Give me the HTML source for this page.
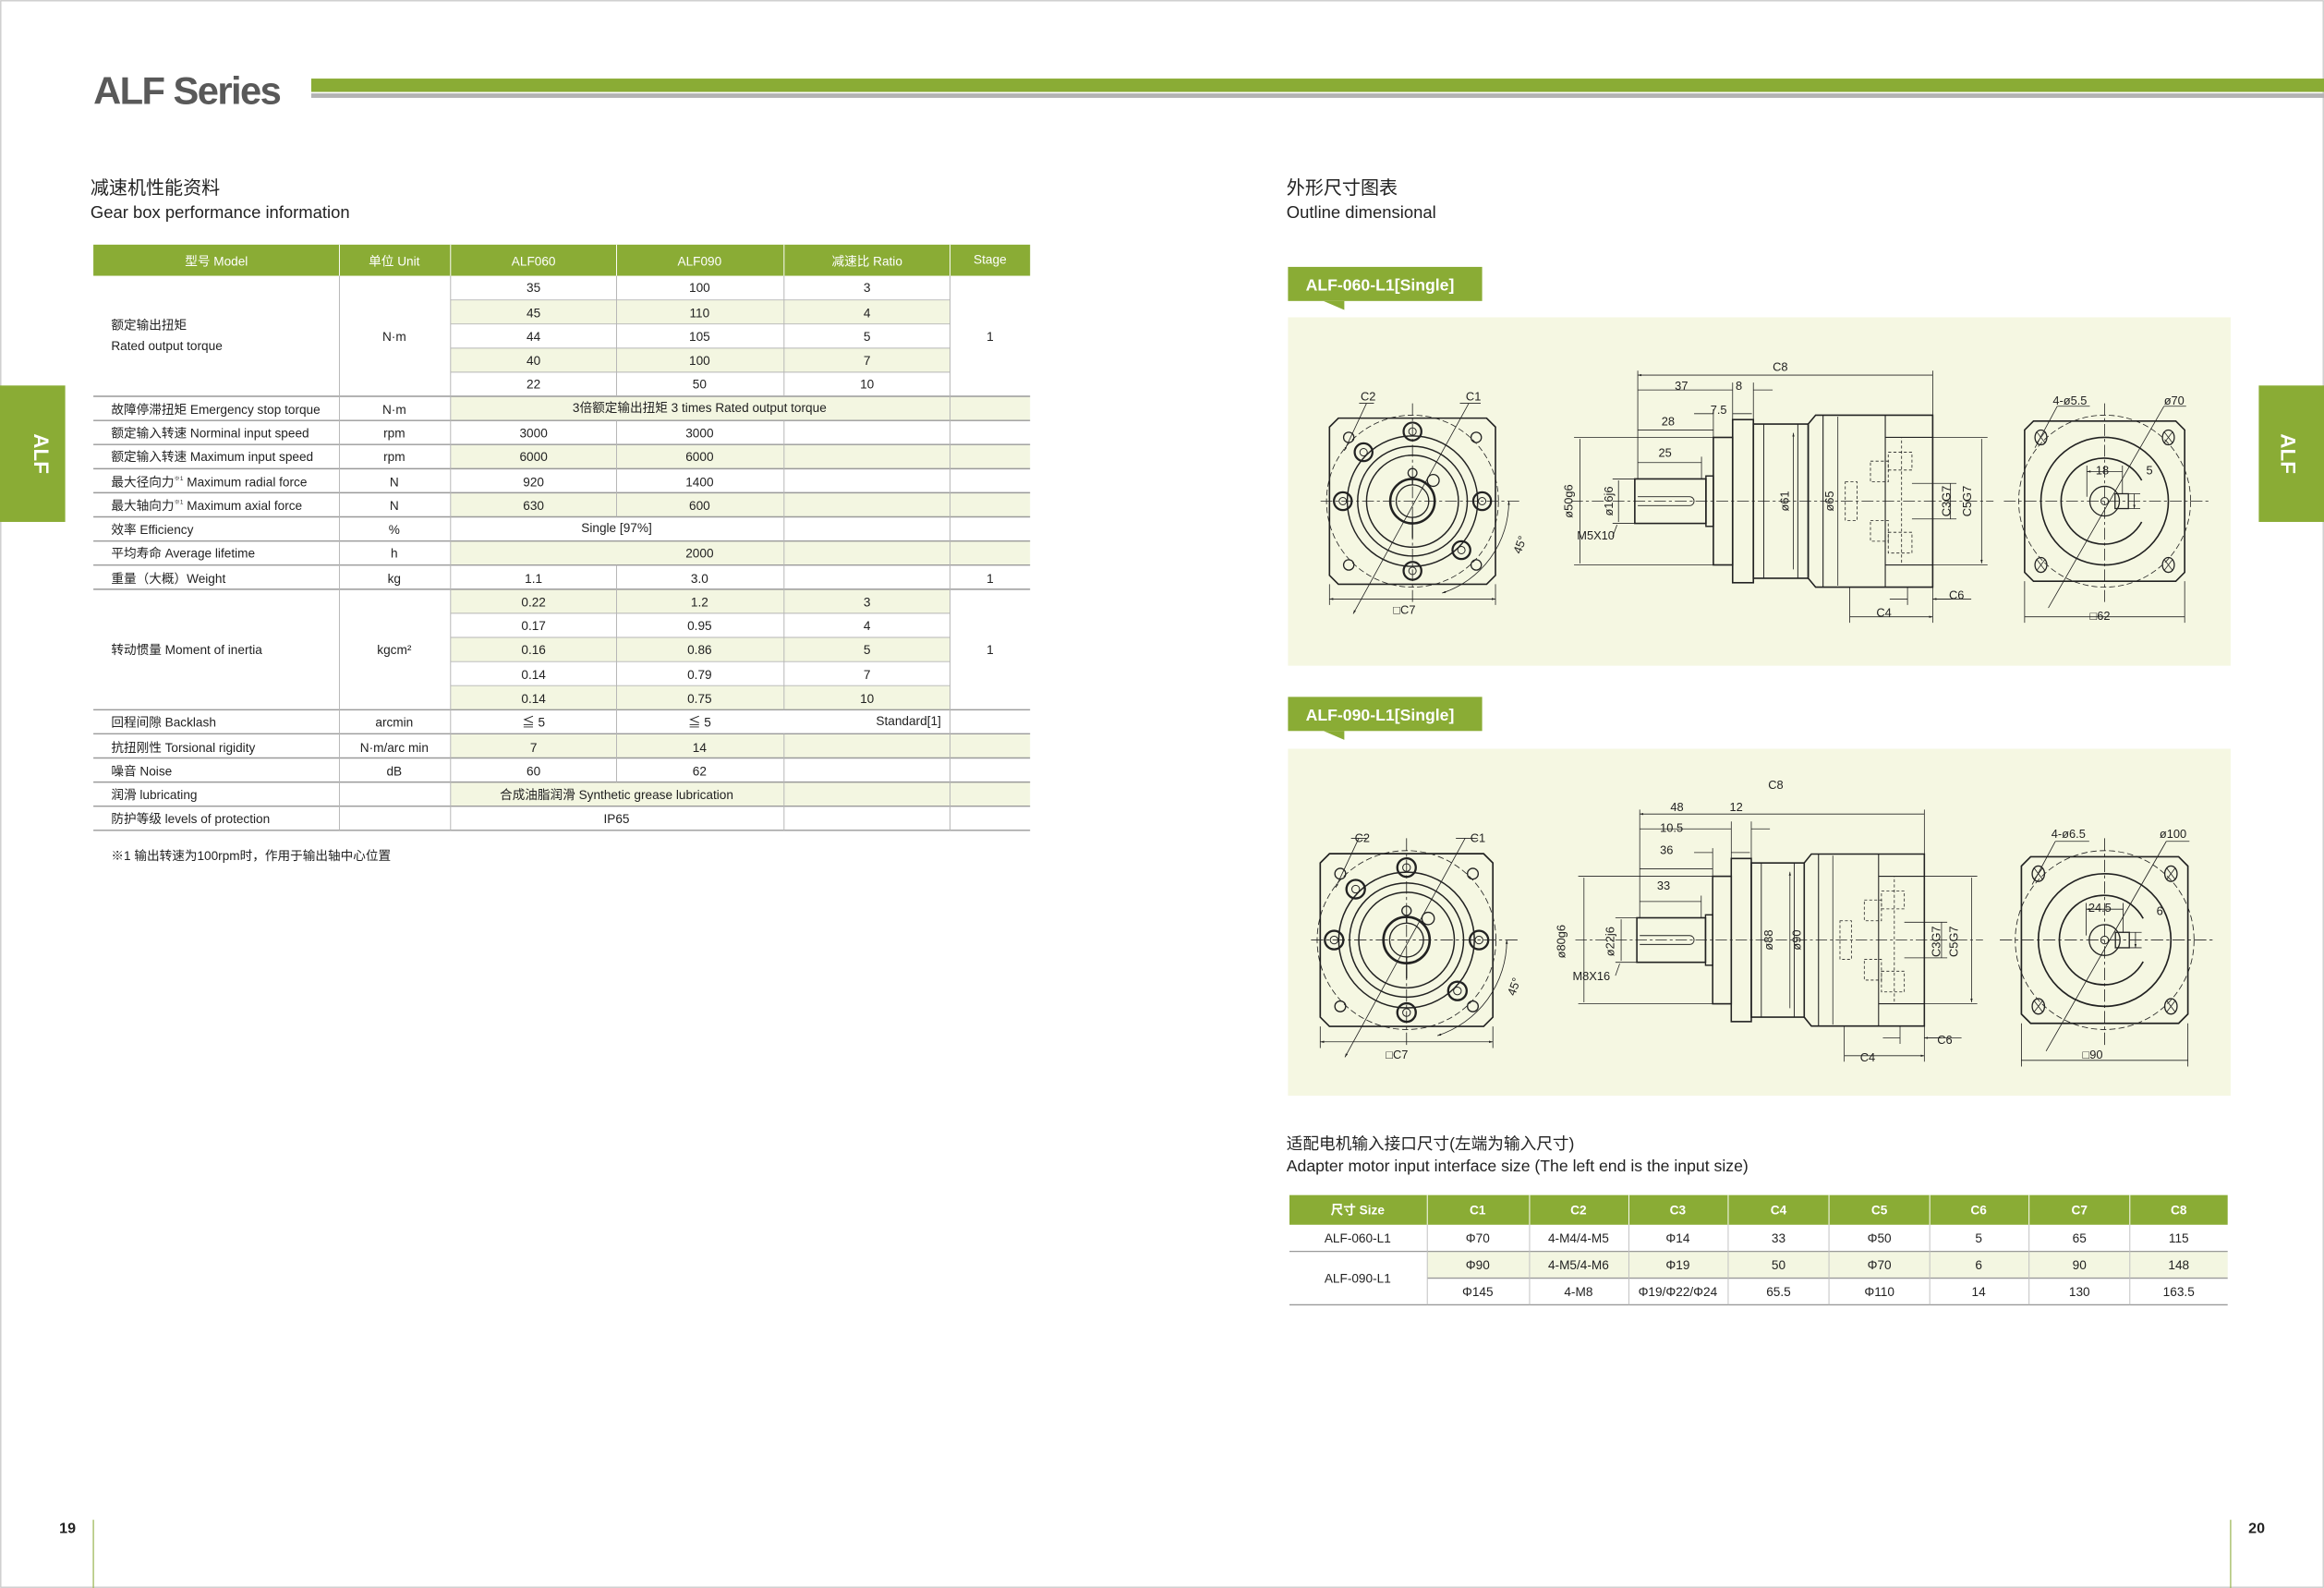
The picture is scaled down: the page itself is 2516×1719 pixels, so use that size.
<!DOCTYPE html>
<html><head><meta charset="utf-8"><style>
html,body{margin:0;padding:0;background:#fff;}
svg{display:block;}
text{font-family:"Liberation Sans","Noto Sans CJK SC",sans-serif;}
</style></head><body>
<svg width="2516" height="1719" viewBox="0 0 1568 1071" preserveAspectRatio="none" xmlns="http://www.w3.org/2000/svg">
<defs>
<marker id="a" viewBox="0 0 10 10" refX="10" refY="5" markerWidth="5" markerHeight="5" orient="auto-start-reverse"><path d="M0,2 L10,5 L0,8 Z" fill="#222"/></marker>
<g id="fv" fill="none" stroke="#222">
<path d="M-50,-56 H50 L56,-50 V50 L50,56 H-50 L-56,50 V-50 Z" stroke-width="1"/>
<circle r="58" stroke-width="0.5" stroke-dasharray="4 2"/>
<circle r="44" stroke-width="0.9"/><circle r="37" stroke-width="0.9"/><circle r="31" stroke-width="0.9"/>
<circle r="15" stroke-width="1.6"/><circle r="11" stroke-width="0.8"/>
<circle cx="0" cy="-19" r="3" stroke-width="0.8"/><path d="M0,-16 V-11 M0,11 V25" stroke-width="0.8"/>
<circle cx="14" cy="-14" r="4" stroke-width="0.8"/>
<g stroke-width="1.4"><circle cx="0" cy="-47" r="6"/><circle cx="0" cy="47" r="6"/><circle cx="-47" cy="0" r="6"/><circle cx="47" cy="0" r="6"/><circle cx="-33" cy="-33" r="6"/><circle cx="33" cy="33" r="6"/></g>
<g stroke-width="0.6"><circle cx="0" cy="-47" r="2.5"/><circle cx="0" cy="47" r="2.5"/><circle cx="-47" cy="0" r="2.5"/><circle cx="47" cy="0" r="2.5"/><circle cx="-33" cy="-33" r="2.5"/><circle cx="33" cy="33" r="2.5"/></g>
<g stroke-width="0.8"><circle cx="-43" cy="-43" r="3.5"/><circle cx="43" cy="-43" r="3.5"/><circle cx="-43" cy="43" r="3.5"/><circle cx="43" cy="43" r="3.5"/></g>
<path d="M-62,0 H72 M0,-66 V68" stroke-width="0.5" stroke-dasharray="8 2 2 2"/>
<path d="M38,-66 L-40,76" stroke-width="0.5" marker-end="url(#a)"/>
<path d="M-31,-66 L-46,-34" stroke-width="0.5" marker-end="url(#a)"/>
<path d="M-36,-66 H-26 M32,-66 H46" stroke-width="0.5"/>
<path d="M65,0 A65,65 0 0 1 20,62" stroke-width="0.5" marker-start="url(#a)" marker-end="url(#a)"/>
<path d="M-56,66 H56" stroke-width="0.5" marker-start="url(#a)" marker-end="url(#a)"/>
<path d="M-56,56 V70 M56,56 V70" stroke-width="0.5"/>
</g>
<g id="sv" fill="none" stroke="#222">
<rect x="1103" y="-15" width="48" height="30" stroke-width="1"/>
<path d="M1105,-3 H1140 A3,3 0 0 1 1140,3 H1105" stroke-width="0.6"/>
<rect x="1151" y="-17" width="5" height="34" stroke-width="0.9"/>
<rect x="1156" y="-43" width="13" height="86" stroke-width="1"/>
<rect x="1169" y="-55" width="14" height="110" stroke-width="1"/>
<rect x="1183" y="-52" width="37" height="104" stroke-width="1"/>
<path d="M1190,-52 V52 M1213,-52 V52" stroke-width="0.6"/>
<path d="M1220,-52 L1225,-58 H1304 V58 H1225 L1220,52 Z" stroke-width="1"/>
<path d="M1230,-58 V58 M1272,-58 V58 M1272,-43 H1304 M1272,43 H1304" stroke-width="0.7"/>
<g stroke-width="0.5" stroke-dasharray="2 1.5">
<rect x="1283" y="-43" width="21" height="86"/>
<rect x="1245" y="-13" width="8" height="26"/>
<rect x="1262" y="-27" width="12" height="14"/><rect x="1262" y="13" width="12" height="14"/>
<rect x="1274" y="-33" width="16" height="12"/><rect x="1274" y="21" width="16" height="14"/>
</g>
<g stroke-width="0.5">
<path d="M1210,-46 V46 M1240,-57 V57 M1066,-42 V42 M1092,-14 V14 M1316,-12 V12 M1337,-42 V42" marker-start="url(#a)" marker-end="url(#a)"/>
<path d="M1062,-43 H1156 M1062,43 H1156 M1088,-15 H1103 M1088,15 H1103 M1304,-43 H1341 M1304,43 H1341 M1290,-12 H1320 M1290,12 H1320"/>
<path d="M1105,-88 V-15 M1304,-88 V-58 M1169,-80 V-55 M1183,-80 V-55 M1156,-62 V-43 M1148,-30 V-15 M1287,58 V70 M1304,58 V82 M1248,58 V82"/>
<path d="M1105,-85 H1304 M1105,-75 H1169 M1105,-48 H1156 M1105,-26 H1148 M1248,78 H1304" marker-start="url(#a)" marker-end="url(#a)"/>
<path d="M1196,-75 H1183 M1143,-59 H1156 M1182,-59 H1169 M1275,66 H1287 M1316,66 H1304" marker-end="url(#a)"/>
<path d="M1304,66 H1330 M1091,16 L1088,24"/>
</g>
<path d="M1060,0 H1345" stroke-width="0.5" stroke-dasharray="8 2 2 2"/>
</g>
<g id="rv" fill="none" stroke="#222">
<path d="M-48,-54 H48 L54,-48 V48 L48,54 H-48 L-54,48 V-48 Z" stroke-width="1"/>
<circle r="58" stroke-width="0.5" stroke-dasharray="4 2"/>
<circle r="43" stroke-width="1"/>
<path d="M25,-14 A29,29 0 1 0 25,14" stroke-width="1"/>
<circle r="10" stroke-width="0.8"/><circle r="2.5" stroke-width="0.6"/>
<rect x="7" y="-5" width="9" height="10" stroke-width="0.8"/>
<g stroke-width="0.8"><ellipse cx="-43" cy="-43" rx="4" ry="5"/><ellipse cx="43" cy="-43" rx="4" ry="5"/><ellipse cx="-43" cy="43" rx="4" ry="5"/><ellipse cx="43" cy="43" rx="4" ry="5"/></g>
<g stroke-width="0.5">
<path d="M-46,-47 L-40,-39 M-40,-47 L-46,-39 M46,-47 L40,-39 M40,-47 L46,-39 M-46,39 L-40,47 M-40,39 L-46,47 M46,39 L40,47 M40,39 L46,47"/>
<path d="M-32,-64 H-10 M-32,-64 L-47,-36 M40,-64 H55 M40,-64 L-38,72" />
<path d="M-12,-20 H12 M-54,78 H54 M20,-5 V5" marker-start="url(#a)" marker-end="url(#a)"/>
<path d="M-12,-24 V-3 M12,-24 V-5 M-54,54 V82 M54,54 V82 M16,-5 H24 M16,5 H24"/>
</g>
<path d="M-68,0 H70 M0,-66 V70" stroke-width="0.5" stroke-dasharray="8 2 2 2"/>
</g>
</defs>

<rect x="0.5" y="0.5" width="1567" height="1070" fill="#fff" stroke="#c8c8c8" stroke-width="0.8"/>

<text x="63" y="70" font-size="26" font-weight="bold" fill="#595959" textLength="127">ALF Series</text>
<rect x="210" y="53" width="1358" height="9" fill="#8aac35"/>
<rect x="210" y="63" width="1358" height="3" fill="#b3b3b3"/>

<rect x="0" y="260" width="44" height="92" fill="#8aac35"/>
<text transform="translate(23,306) rotate(90)" font-size="14" font-weight="bold" fill="#fff" text-anchor="middle">ALF</text>
<rect x="1524" y="260" width="44" height="92" fill="#8aac35"/>
<text transform="translate(1539,306) rotate(90)" font-size="14" font-weight="bold" fill="#fff" text-anchor="middle">ALF</text>

<text x="61" y="131" font-size="12.5" fill="#222">减速机性能资料</text>
<text x="61" y="147" font-size="11.5" fill="#222">Gear box performance information</text>
<text x="868" y="131" font-size="12.5" fill="#222">外形尺寸图表</text>
<text x="868" y="147" font-size="11.5" fill="#222">Outline dimensional</text>

<!-- Performance table -->
<rect x="63" y="165" width="632" height="21" fill="#8aac35"/>
<g stroke="#fff" stroke-width="0.6"><path d="M229,165V186M304,165V186M416,165V186M529,165V186M641,165V186"/></g>
<g font-size="8.5" fill="#fff" text-anchor="middle">
<text x="146" y="179">型号 Model</text><text x="266" y="179">单位 Unit</text><text x="360" y="179">ALF060</text><text x="472" y="179">ALF090</text><text x="585" y="179">减速比 Ratio</text><text x="668" y="178">Stage</text></g>
<g fill="#f3f6e1">
<rect x="304" y="202.3" width="337" height="16.3"/><rect x="304" y="234.8" width="337" height="16.3"/>
<rect x="304" y="267.3" width="391" height="16.3"/><rect x="304" y="299.8" width="391" height="16.3"/>
<rect x="304" y="332.3" width="391" height="16.3"/><rect x="304" y="364.9" width="391" height="16.3"/>
<rect x="304" y="397.4" width="337" height="16.3"/><rect x="304" y="429.9" width="337" height="16.3"/><rect x="304" y="462.4" width="337" height="16.3"/>
<rect x="304" y="494.9" width="391" height="16.3"/><rect x="304" y="527.5" width="391" height="16.3"/>
</g>
<g stroke="#9a9a9a" stroke-width="0.9" fill="none">
<path d="M63,267.3H695M63,283.6H695M63,299.8H695M63,316.1H695M63,332.3H695M63,348.6H695M63,364.9H695M63,381.1H695M63,397.4H695M63,478.7H695M63,494.9H695M63,511.2H695M63,527.5H695M63,543.7H695M63,560H695"/>
</g>
<g stroke="#b5b5b5" stroke-width="0.6" fill="none">
<path d="M304,202.3H641M304,218.5H641M304,234.8H641M304,251H641M304,413.6H641M304,429.9H641M304,446.2H641M304,462.4H641"/>
<path d="M229,186V560M304,186V560M416,186V267.3M529,186V267.3M641,186V267.3M641,267.3V478.7M416,283.6V348.6M529,283.6V381.1M416,381.1V494.9M529,381.1V478.7M641,494.9V560M529,494.9V560M416,494.9V527.5M641,397.4V478.7M641,478.7V494.9"/>
</g>
<g font-size="8.5" fill="#222">
<text x="75" y="222">额定输出扭矩</text><text x="75" y="236">Rated output torque</text>
<text x="75" y="279">故障停滞扭矩 Emergency stop torque</text>
<text x="75" y="295">额定输入转速 Norminal input speed</text>
<text x="75" y="311">额定输入转速 Maximum input speed</text>
<text x="75" y="328">最大径向力<tspan font-size="4" dy="-4">※1</tspan><tspan dy="4"> Maximum radial force</tspan></text>
<text x="75" y="344">最大轴向力<tspan font-size="4" dy="-4">※1</tspan><tspan dy="4"> Maximum axial force</tspan></text>
<text x="75" y="360">效率 Efficiency</text>
<text x="75" y="376">平均寿命 Average lifetime</text>
<text x="75" y="393">重量（大概）Weight</text>
<text x="75" y="441">转动惯量 Moment of inertia</text>
<text x="75" y="490">回程间隙 Backlash</text>
<text x="75" y="507">抗扭刚性 Torsional rigidity</text>
<text x="75" y="523">噪音 Noise</text>
<text x="75" y="539">润滑 lubricating</text>
<text x="75" y="555">防护等级 levels of protection</text>
<text x="75" y="580">※1 输出转速为100rpm时，作用于输出轴中心位置</text>
</g>
<g font-size="8.5" fill="#222" text-anchor="middle">
<text x="266" y="230">N·m</text><text x="266" y="279">N·m</text><text x="266" y="295">rpm</text><text x="266" y="311">rpm</text><text x="266" y="328">N</text><text x="266" y="344">N</text><text x="266" y="360">%</text><text x="266" y="376">h</text><text x="266" y="393">kg</text><text x="266" y="441">kgcm²</text><text x="266" y="490">arcmin</text><text x="266" y="507">N·m/arc  min</text><text x="266" y="523">dB</text>
<text x="360" y="197">35</text><text x="472" y="197">100</text><text x="585" y="197">3</text>
<text x="360" y="214">45</text><text x="472" y="214">110</text><text x="585" y="214">4</text>
<text x="360" y="230">44</text><text x="472" y="230">105</text><text x="585" y="230">5</text>
<text x="360" y="246">40</text><text x="472" y="246">100</text><text x="585" y="246">7</text>
<text x="360" y="262">22</text><text x="472" y="262">50</text><text x="585" y="262">10</text>
<text x="668" y="230">1</text>
<text x="472" y="278">3倍额定输出扭矩 3 times Rated output torque</text>
<text x="360" y="295">3000</text><text x="472" y="295">3000</text>
<text x="360" y="311">6000</text><text x="472" y="311">6000</text>
<text x="360" y="328">920</text><text x="472" y="328">1400</text>
<text x="360" y="344">630</text><text x="472" y="344">600</text>
<text x="416" y="359">Single [97%]</text>
<text x="472" y="376">2000</text>
<text x="360" y="393">1.1</text><text x="472" y="393">3.0</text><text x="668" y="393">1</text>
<text x="360" y="409">0.22</text><text x="472" y="409">1.2</text><text x="585" y="409">3</text>
<text x="360" y="425">0.17</text><text x="472" y="425">0.95</text><text x="585" y="425">4</text>
<text x="360" y="441">0.16</text><text x="472" y="441">0.86</text><text x="585" y="441">5</text>
<text x="360" y="458">0.14</text><text x="472" y="458">0.79</text><text x="585" y="458">7</text>
<text x="360" y="474">0.14</text><text x="472" y="474">0.75</text><text x="585" y="474">10</text>
<text x="668" y="441">1</text>
<text x="360" y="490">≦ 5</text><text x="472" y="490">≦ 5</text><text x="613" y="489">Standard[1]</text>
<text x="360" y="507">7</text><text x="472" y="507">14</text>
<text x="360" y="523">60</text><text x="472" y="523">62</text>
<text x="416" y="539">合成油脂润滑 Synthetic grease lubrication</text>
<text x="416" y="555">IP65</text>
</g>

<!-- Drawing panel 1 -->
<rect x="869" y="180" width="131" height="23" fill="#8aac35"/>
<polygon points="893,203 907,203 907,209" fill="#8aac35"/>
<text x="881" y="196" font-size="11" font-weight="bold" fill="#fff">ALF-060-L1[Single]</text>
<rect x="869" y="214" width="636" height="235" fill="#f5f7e2"/>
<use href="#fv" transform="translate(953,338)"/>
<use href="#sv" transform="translate(0,338)"/>
<use href="#rv" transform="translate(1420,338)"/>
<g font-size="8" fill="#222">
<text x="918" y="270">C2</text><text x="989" y="270">C1</text><text x="940" y="414">□C7</text>
<text transform="translate(1026,374) rotate(-70)">45°</text>
<text x="1196" y="250">C8</text><text x="1130" y="263">37</text><text x="1171" y="263">8</text><text x="1154" y="279">7.5</text><text x="1121" y="287">28</text><text x="1119" y="308">25</text>
<text x="1064" y="364">M5X10</text>
<text transform="translate(1061,338) rotate(-90)" text-anchor="middle">ø50g6</text>
<text transform="translate(1088,338) rotate(-90)" text-anchor="middle">ø16j6</text>
<text transform="translate(1207,338) rotate(-90)" text-anchor="middle">ø61</text>
<text transform="translate(1237,338) rotate(-90)" text-anchor="middle">ø65</text>
<text transform="translate(1316,338) rotate(-90)" text-anchor="middle">C3G7</text>
<text transform="translate(1330,338) rotate(-90)" text-anchor="middle">C5G7</text>
<text x="1315" y="404">C6</text><text x="1266" y="416">C4</text>
<text x="1385" y="273">4-ø5.5</text><text x="1460" y="273">ø70</text>
<text x="1414" y="320">18</text><text x="1448" y="320">5</text><text x="1410" y="418">□62</text>
</g>

<!-- Drawing panel 2 -->
<rect x="869" y="470" width="131" height="23" fill="#8aac35"/>
<polygon points="893,493 907,493 907,499" fill="#8aac35"/>
<text x="881" y="486" font-size="11" font-weight="bold" fill="#fff">ALF-090-L1[Single]</text>
<rect x="869" y="505" width="636" height="234" fill="#f5f7e2"/>
<use href="#fv" transform="translate(949,634) scale(1.04)"/>
<use href="#sv" transform="translate(40,634) scale(0.965,1)"/>
<use href="#rv" transform="translate(1420,634) scale(1.04)"/>
<g font-size="8" fill="#222">
<text x="914" y="568">C2</text><text x="992" y="568">C1</text><text x="935" y="714">□C7</text>
<text transform="translate(1022,672) rotate(-70)">45°</text>
<text x="1193" y="532">C8</text><text x="1127" y="547">48</text><text x="1167" y="547">12</text><text x="1120" y="561">10.5</text><text x="1120" y="576">36</text><text x="1118" y="600">33</text>
<text x="1061" y="661">M8X16</text>
<text transform="translate(1056,635) rotate(-90)" text-anchor="middle">ø80g6</text>
<text transform="translate(1089,635) rotate(-90)" text-anchor="middle">ø22j6</text>
<text transform="translate(1196,634) rotate(-90)" text-anchor="middle">ø88</text>
<text transform="translate(1215,634) rotate(-90)" text-anchor="middle">ø90</text>
<text transform="translate(1309,635) rotate(-90)" text-anchor="middle">C3G7</text>
<text transform="translate(1321,635) rotate(-90)" text-anchor="middle">C5G7</text>
<text x="1307" y="704">C6</text><text x="1255" y="716">C4</text>
<text x="1384" y="565">4-ø6.5</text><text x="1457" y="565">ø100</text>
<text x="1409" y="615">24.5</text><text x="1455" y="617">6</text><text x="1405" y="714">□90</text>
</g>

<text x="868" y="775" font-size="11" fill="#222">适配电机输入接口尺寸(左端为输入尺寸)</text>
<text x="868" y="790" font-size="11" fill="#222">Adapter motor input interface size (The left end is the input size)</text>

<!-- Adapter table -->
<rect x="870" y="806" width="633" height="20" fill="#8aac35"/>
<g stroke="#fff" stroke-width="0.6"><path d="M963,806V826M1032,806V826M1099,806V826M1166,806V826M1234,806V826M1302,806V826M1369,806V826M1437,806V826"/></g>
<rect x="963" y="844" width="540" height="18" fill="#f3f6e1"/>
<g stroke="#9a9a9a" stroke-width="0.8"><path d="M870,844H1503M963,862H1503M870,880H1503"/></g>
<g stroke="#c0c0c0" stroke-width="0.6"><path d="M963,826V880M1032,826V880M1099,826V880M1166,826V880M1234,826V880M1302,826V880M1369,826V880M1437,826V880"/></g>
<g font-size="8.5" fill="#fff" font-weight="bold" text-anchor="middle">
<text x="916" y="819">尺寸 Size</text><text x="997" y="819">C1</text><text x="1065" y="819">C2</text><text x="1132" y="819">C3</text><text x="1200" y="819">C4</text><text x="1268" y="819">C5</text><text x="1335" y="819">C6</text><text x="1403" y="819">C7</text><text x="1470" y="819">C8</text></g>
<g font-size="8.5" fill="#222" text-anchor="middle">
<text x="916" y="838">ALF-060-L1</text><text x="997" y="838">Φ70</text><text x="1065" y="838">4-M4/4-M5</text><text x="1132" y="838">Φ14</text><text x="1200" y="838">33</text><text x="1268" y="838">Φ50</text><text x="1335" y="838">5</text><text x="1403" y="838">65</text><text x="1470" y="838">115</text>
<text x="916" y="865">ALF-090-L1</text>
<text x="997" y="856">Φ90</text><text x="1065" y="856">4-M5/4-M6</text><text x="1132" y="856">Φ19</text><text x="1200" y="856">50</text><text x="1268" y="856">Φ70</text><text x="1335" y="856">6</text><text x="1403" y="856">90</text><text x="1470" y="856">148</text>
<text x="997" y="874">Φ145</text><text x="1065" y="874">4-M8</text><text x="1132" y="874">Φ19/Φ22/Φ24</text><text x="1200" y="874">65.5</text><text x="1268" y="874">Φ110</text><text x="1335" y="874">14</text><text x="1403" y="874">130</text><text x="1470" y="874">163.5</text>
</g>

<text x="40" y="1034" font-size="10" font-weight="bold" fill="#222">19</text>
<path d="M63,1025V1071" stroke="#9db85a" stroke-width="0.8"/>
<text x="1517" y="1034" font-size="10" font-weight="bold" fill="#222">20</text>
<path d="M1505,1025V1071" stroke="#9db85a" stroke-width="0.8"/>
</svg>
</body></html>
